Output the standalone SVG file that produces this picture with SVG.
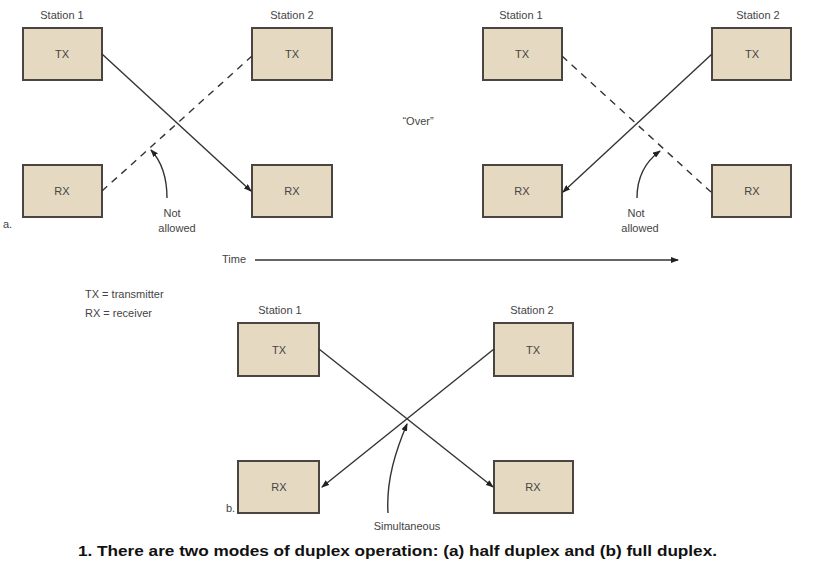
<svg xmlns="http://www.w3.org/2000/svg" width="818" height="567" viewBox="0 0 818 567">
<style>
.box{fill:#e6d9c1;stroke:#4a4540;stroke-width:2}
.lbl{font-family:"Liberation Sans",Arial,sans-serif;font-size:11px;fill:#444;text-anchor:middle}
.txt{font-family:"Liberation Sans",Arial,sans-serif;font-size:11px;fill:#444}
.ln{stroke:#333;stroke-width:1.4;fill:none}
.dash{stroke:#333;stroke-width:1.4;fill:none;stroke-dasharray:7 6}
.cap{font-family:"Liberation Sans",Arial,sans-serif;font-size:14px;font-weight:bold;fill:#111}
</style>
<defs>
<marker id="ah" markerWidth="8" markerHeight="6" refX="7" refY="3" orient="auto" markerUnits="userSpaceOnUse">
<path d="M0,0 L8,3 L0,6 z" fill="#222"/>
</marker>
</defs>
<rect width="818" height="567" fill="#fff"/>

<!-- Part a, left -->
<g id="a-st1-label"><text class="lbl" x="62" y="19">Station 1</text></g>
<g id="a-st2-label"><text class="lbl" x="292" y="19">Station 2</text></g>
<g id="a1-tx1"><rect class="box" x="23" y="28" width="79" height="52"/><text class="lbl" x="62" y="58">TX</text></g>
<g id="a1-rx1"><rect class="box" x="23" y="165" width="79" height="52"/><text class="lbl" x="62" y="195">RX</text></g>
<g id="a1-tx2"><rect class="box" x="252" y="28" width="80" height="52"/><text class="lbl" x="292" y="58">TX</text></g>
<g id="a1-rx2"><rect class="box" x="252" y="165" width="80" height="52"/><text class="lbl" x="292" y="195">RX</text></g>
<text class="txt" x="3" y="228">a.</text>

<!-- Part a, right -->
<g id="a2-st1-label"><text class="lbl" x="521" y="19">Station 1</text></g>
<g id="a2-st2-label"><text class="lbl" x="758" y="19">Station 2</text></g>
<g id="a2-tx1"><rect class="box" x="483" y="28" width="79" height="52"/><text class="lbl" x="522" y="58">TX</text></g>
<g id="a2-rx1"><rect class="box" x="483" y="165" width="79" height="52"/><text class="lbl" x="522" y="195">RX</text></g>
<g id="a2-tx2"><rect class="box" x="712" y="28" width="79" height="52"/><text class="lbl" x="752" y="58">TX</text></g>
<g id="a2-rx2"><rect class="box" x="712" y="165" width="79" height="52"/><text class="lbl" x="752" y="195">RX</text></g>

<g id="over"><text class="lbl" x="418" y="125">“Over”</text></g>

<!-- Part b -->
<g id="b-st1-label"><text class="lbl" x="280" y="314">Station 1</text></g>
<g id="b-st2-label"><text class="lbl" x="532" y="314">Station 2</text></g>
<g id="b-tx1"><rect class="box" x="238" y="323" width="81" height="53"/><text class="lbl" x="279" y="354">TX</text></g>
<g id="b-rx1"><rect class="box" x="238" y="461" width="81" height="52"/><text class="lbl" x="279" y="491">RX</text></g>
<g id="b-tx2"><rect class="box" x="494" y="323" width="79" height="53"/><text class="lbl" x="533" y="354">TX</text></g>
<g id="b-rx2"><rect class="box" x="494" y="461" width="79" height="52"/><text class="lbl" x="533" y="491">RX</text></g>
<text class="txt" x="226" y="512">b.</text>

<!-- Legend and time -->
<g id="legend">
<text class="txt" x="85" y="298">TX = transmitter</text>
<text class="txt" x="85" y="317">RX = receiver</text>
</g>
<g id="time"><text class="txt" x="222" y="263">Time</text></g>

<g id="connectors">
<line class="ln" x1="102" y1="54" x2="251" y2="191" marker-end="url(#ah)"/>
<line class="dash" x1="102" y1="191" x2="252" y2="56"/>
<line class="ln" x1="712" y1="54" x2="563" y2="192" marker-end="url(#ah)"/>
<line class="dash" x1="562" y1="56" x2="711" y2="192"/>
<line class="ln" x1="319" y1="349" x2="493" y2="487" marker-end="url(#ah)"/>
<line class="ln" x1="494" y1="349" x2="322" y2="487" marker-end="url(#ah)"/>
<line class="ln" x1="255" y1="260" x2="678" y2="260" marker-end="url(#ah)"/>
<path class="ln" d="M167,198 C167,178 162,162 151,150" marker-end="url(#ah)"/>
<path class="ln" d="M637,198 C637,178 645,162 660,151" marker-end="url(#ah)"/>
<path class="ln" d="M388,513 C386,480 396,450 407,424" marker-end="url(#ah)"/>
</g>

<g id="notes">
<text class="lbl" x="172" y="217">Not</text>
<text class="lbl" x="177" y="232">allowed</text>
<text class="lbl" x="636" y="217">Not</text>
<text class="lbl" x="640" y="232">allowed</text>
<text class="lbl" x="407" y="530">Simultaneous</text>
</g>

<text class="cap" x="78" y="556" textLength="639" lengthAdjust="spacingAndGlyphs">1. There are two modes of duplex operation: (a) half duplex and (b) full duplex.</text>
</svg>
